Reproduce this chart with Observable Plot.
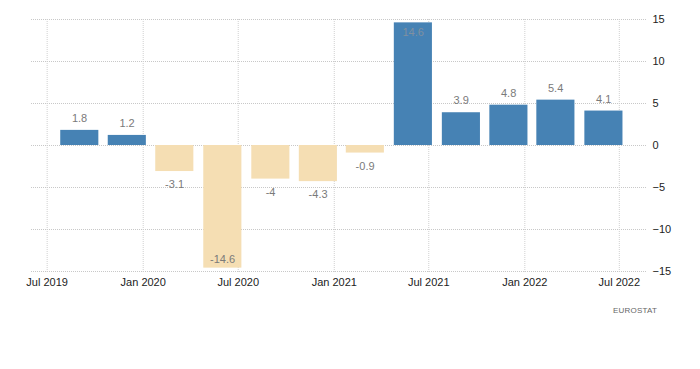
<!DOCTYPE html>
<html>
<head>
<meta charset="utf-8">
<script src="https://cdn.jsdelivr.net/npm/d3@7"></script>
<script src="https://cdn.jsdelivr.net/npm/@observablehq/plot@0.6"></script>
<style>
  html, body { margin: 0; padding: 0; background: #fff; }
  #chart svg { display: block; }
  #caption { width: 700px; box-sizing: border-box; text-align: right; padding-right: 43px;
    font: 8px "Liberation Sans", Arial, sans-serif; color: #666; margin-top: 6px; letter-spacing: 0.2px; }
</style>
</head>
<body>
<div id="chart"></div>
<div id="caption">EUROSTAT</div>
<script>
const quarters = ["2019-Q3","2019-Q4","2020-Q1","2020-Q2","2020-Q3","2020-Q4","2021-Q1","2021-Q2","2021-Q3","2021-Q4","2022-Q1","2022-Q2"];
const values = [1.8, 1.2, -3.1, -14.6, -4, -4.3, -0.9, 14.6, 3.9, 4.8, 5.4, 4.1];
const xTicks = ["2019-07-01","2020-01-01","2020-07-01","2021-01-01","2021-07-01","2022-01-01","2022-07-01"];
const yTicks = [-15, -10, -5, 0, 5, 10, 15];

function quarterDate(q) {
  const [y, qq] = q.split("-Q").map(Number);
  return new Date(Date.UTC(y, (qq - 1) * 3 + 2, 1));
}
const data = quarters.map((q, i) => {
  const c = quarterDate(q);
  return { c, x1: d3.utcDay.offset(c, -36), x2: d3.utcDay.offset(c, 37), v: values[i] };
});
const tickDates = xTicks.map(s => new Date(s + "T00:00:00Z"));

const font = "'Liberation Sans', Arial, sans-serif";
const labelFill = "#7a7a7a";
const chart = Plot.plot({
  width: 700,
  height: 300,
  marginLeft: 31,
  marginRight: 53,
  marginTop: 19,
  marginBottom: 29,
  style: { fontFamily: font, fontSize: "11px", color: "#222", background: "#fff" },
  x: { type: "utc", domain: [new Date("2019-06-01T00:00:00Z"), new Date("2022-08-24T00:00:00Z")] },
  y: { domain: [-15, 15] },
  marks: [
    Plot.gridY(yTicks, { stroke: "#c8c8c8", strokeOpacity: 1, strokeDasharray: "1,1" }),
    Plot.gridX(tickDates, { stroke: "#d0d0d0", strokeOpacity: 1, strokeDasharray: "1,1", insetBottom: -2 }),
    Plot.rectY(data, { x1: "x1", x2: "x2", y1: 0, y2: "v", fill: d => d.v >= 0 ? "#4682b4" : "#f5deb3" }),
    Plot.text(data.filter(d => d.v >= 0 && d.v < 13), { x: "c", y: "v", text: d => String(d.v), dy: -12, fill: labelFill, fontSize: 11 }),
    Plot.text(data.filter(d => d.v < 0 && d.v > -13), { x: "c", y: "v", text: d => String(d.v), dy: 13, fill: labelFill, fontSize: 11 }),
    Plot.text(data.filter(d => d.v >= 13), { x: "c", y: "v", text: d => String(d.v), dy: 10, fill: "#8090a0", fontSize: 11 }),
    Plot.text(data.filter(d => d.v <= -13), { x: "c", y: "v", text: d => String(d.v), dy: -9, fill: labelFill, fontSize: 11 }),
    Plot.axisX(tickDates, { tickFormat: d3.utcFormat("%b %Y"), tickSize: 0, tickPadding: 7, fill: "#222", fontSize: 11 }),
    Plot.axisY(yTicks, { anchor: "right", tickSize: 0, tickPadding: 5, textAnchor: "start", fill: "#222", fontSize: 11, label: null })
  ]
});
document.getElementById("chart").appendChild(chart);
</script>
</body>
</html>
